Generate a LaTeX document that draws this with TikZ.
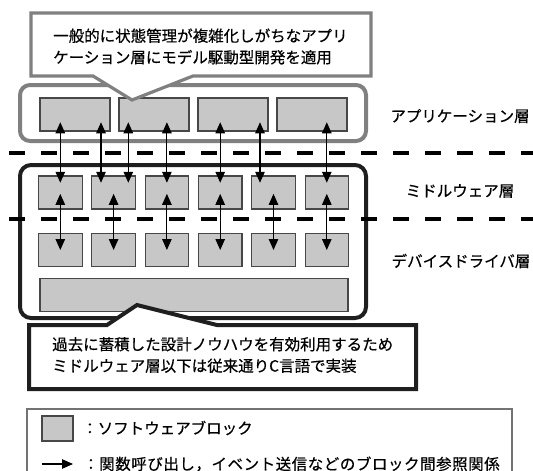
\documentclass[tikz,border=0pt]{standalone}
\usepackage{fontspec}
\setmainfont{Noto Sans CJK JP}[FakeBold=0.5]
\usetikzlibrary{arrows.meta}
\begin{document}
\begin{tikzpicture}[x=1pt,y=-1pt,
  blk/.style={draw=black!72, fill=black!22, line width=1.1pt, minimum height=33pt, inner sep=0pt},
  ablk/.style={blk, minimum width=70pt},
  mblk/.style={blk, minimum width=43.5pt},
  dbl/.style={line width=1.1pt, {Triangle[length=11pt,width=9.5pt]}-{Triangle[length=11pt,width=9.5pt]}},
  sgl/.style={line width=1.1pt, -{Triangle[length=11pt,width=9.5pt]}},
  layerline/.style={line width=4pt, dash pattern=on 16pt off 16pt, dash phase=23pt},
  txt/.style={font=\fontsize{15.5pt}{21.5pt}\selectfont, inner sep=0pt},
  grayframe/.style={draw=black!50, line width=4pt},
  darkframe/.style={draw=black!88, line width=4pt},
]
\useasboundingbox (0,0) rectangle (533,471);

% layer frames
\draw[grayframe, rounded corners=10pt] (20,85) rectangle (366,141);
\draw[darkframe, rounded corners=11pt] (20,165) rectangle (366,318);

% dashed layer separators
\coordinate (d1a) at (0,153); \coordinate (d1b) at (533,153);
\coordinate (d2a) at (0,219); \coordinate (d2b) at (533,219);
\draw[layerline] (d1a) -- (d1b);
\draw[layerline] (d2a) -- (d2b);

% application blocks
\node[ablk] (a1) at (75,114.5) {};
\node[ablk] (a2) at (154,114.5) {};
\node[ablk] (a3) at (233,114.5) {};
\node[ablk] (a4) at (312,114.5) {};

% middleware and device blocks
\foreach \i/\x in {1/60.3,2/113.6,3/166.9,4/220.2,5/273.5,6/326.8}{
  \node[mblk] (m\i) at (\x,192.5) {};
  \node[mblk] (d\i) at (\x,250) {};
}
\node[blk, minimum width=308pt] (w) at (194,295) {};

% app <-> middleware arrows
\draw[dbl] ([xshift=-14.7pt,yshift=9.3pt]a1.south) -- ([yshift=-7.3pt]m1.north);
\draw[dbl] ([xshift=26pt,yshift=9.3pt]a1.south) -- ([xshift=-12.6pt,yshift=-7.3pt]m2.north);
\draw[dbl] ([xshift=-25.7pt,yshift=9.3pt]a2.south) -- ([xshift=14.7pt,yshift=-7.3pt]m2.north);
\draw[dbl] ([xshift=12.9pt,yshift=9.3pt]a2.south) -- ([yshift=-7.3pt]m3.north);
\draw[dbl] ([xshift=-12.8pt,yshift=9.3pt]a3.south) -- ([yshift=-7.3pt]m4.north);
\draw[dbl] ([xshift=27pt,yshift=9.3pt]a3.south) -- ([xshift=-13.5pt,yshift=-7.3pt]m5.north);
\draw[dbl] ([xshift=14.8pt,yshift=9.3pt]a4.south) -- ([yshift=-7.3pt]m6.north);

% middleware <-> device arrows
\foreach \i in {1,...,6}{
  \draw[dbl] ([yshift=15.7pt]m\i.south) -- (d\i.center);
}

% callouts
\draw[grayframe, fill=white, line width=3.2pt] (31,13) -- (371,13) -- (371,76) -- (193,76) -- (132,100) -- (93,76) -- (31,76) -- cycle;
\node[txt, align=left, anchor=west] (t1) at (53,46.5) {一般的に状態管理が複雑化しがちなアプリ\\ケーション層にモデル駆動型開発を適用};

\draw[darkframe, fill=white] (29,325) -- (107,325) -- (137,305) -- (217,325) -- (416,325) -- (416,389) -- (29,389) -- cycle;
\node[txt, align=left, anchor=west] (t2) at (52,355) {過去に蓄積した設計ノウハウを有効利用するため\\ミドルウェア層以下は従来通りC言語で実装};

% layer labels
\node[txt] (lapp) at (460,116) {アプリケーション層};
\node[txt] (lmid) at (460,191) {ミドルウェア層};
\node[txt] (ldev) at (461,261) {デバイスドライバ層};

% legend
\draw[draw=black!55, line width=1.3pt] (27,480) -- (27,409) -- (512,409) -- (512,480);
\node[blk, minimum width=31pt, minimum height=25pt] (lgblk) at (57.5,428.5) {};
\node[txt, anchor=west] (lg1) at (82,428) {：ソフトウェアブロック};
\coordinate (lga) at (42,464); \coordinate (lgb) at (73,464);
\draw[sgl] (lga) -- (lgb);
\node[txt, anchor=west] (lg2) at (83,464) {\addfontfeature{LetterSpace=3.5}：関数呼び出し，イベント送信などのブロック間参照関係};
\end{tikzpicture}
\end{document}
